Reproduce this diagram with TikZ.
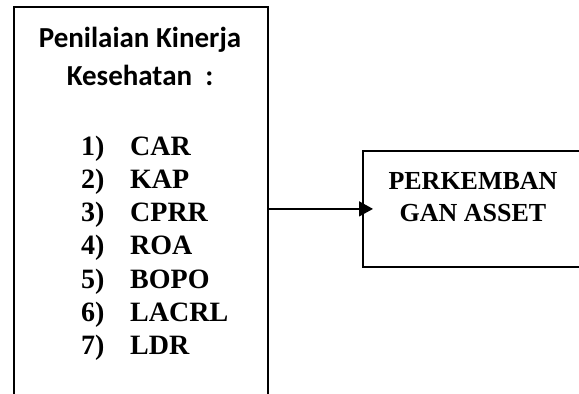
\documentclass[tikz,border=0pt]{standalone}
\usepackage{fontspec}
\setmainfont{Liberation Serif}
\newfontfamily\calfont{Carlito}
\usetikzlibrary{arrows.meta}
\begin{document}
\begin{tikzpicture}[x=1pt,y=-1pt,
  frame/.style={draw,line width=1.8pt,inner sep=0pt,anchor=north west},
  head/.style={font=\calfont\bfseries\fontsize{29}{34}\selectfont,inner sep=0pt,anchor=base},
  num/.style={font=\bfseries\fontsize{28}{32}\selectfont,inner sep=0pt,anchor=base west},
  lbl/.style={font=\bfseries\fontsize{28}{32}\selectfont,inner sep=0pt,anchor=base west},
  rtxt/.style={font=\bfseries\fontsize{26}{30}\selectfont,inner sep=0pt,anchor=base},
  conn/.style={line width=1.6pt,-{Triangle[length=14pt,width=15pt]}}]
\useasboundingbox (0,0) rectangle (579,394);
\node[frame,minimum width=254pt,minimum height=420pt] (L) at (13,6) {};
\node[frame,minimum width=240pt,minimum height=116pt] (R) at (362,150) {};
\node[head] (h1) at (140,47) {Penilaian Kinerja};
\node[head] (h2) at (140,85) {Kesehatan\ \ :};
\foreach \i/\t [count=\k] in {1/CAR,2/KAP,3/CPRR,4/ROA,5/BOPO,6/LACRL,7/LDR}{
  \node[num] (n\k) at (81,{155+33.3*(\k-1)}) {\i)};
  \node[lbl] (t\k) at (130,{155+33.3*(\k-1)}) {\t};
}
\node[rtxt] (r1) at (473,189) {PERKEMBAN};
\node[rtxt] (r2) at (473,221) {GAN ASSET};
\draw[conn,shorten >=-11pt] (L.east |- R.west) -- (R.west);
\end{tikzpicture}
\end{document}
